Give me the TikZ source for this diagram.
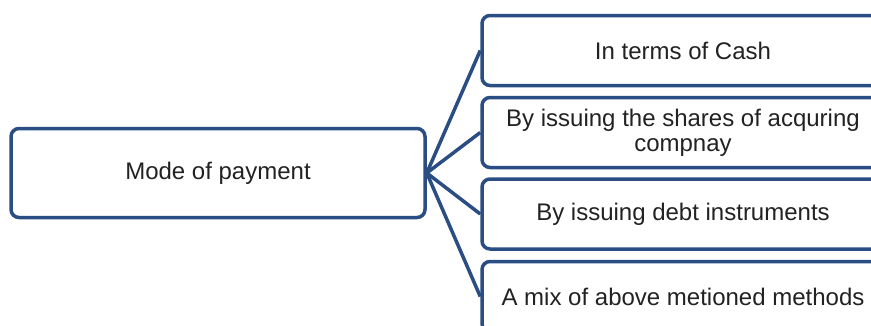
\documentclass[tikz,border=0pt]{standalone}
\usepackage{fontspec}
\setmainfont{Liberation Sans}
\definecolor{edgeblue}{HTML}{2A4D84}
\definecolor{txt}{HTML}{222222}
\begin{document}
\begin{tikzpicture}[x=1pt,y=1pt,
  boxstyle/.style={draw=edgeblue, line width=3.5pt, rounded corners=8pt, fill=white,
    text=txt, font=\fontsize{24}{25}\selectfont, align=center, inner sep=0pt},
  leftbox/.style={boxstyle, minimum width=414pt, minimum height=89pt},
  rightbox/.style={boxstyle, minimum width=402pt, minimum height=70pt},
  conn/.style={draw=edgeblue, line width=3.5pt}]
\useasboundingbox (0,0) rectangle (871,-325);
\clip (0,0) rectangle (871,-325);
\node[leftbox] (mode) at (218,-173) {Mode of payment};
\node[rightbox] (cash) at (683,-50.5) {In terms of Cash};
\node[rightbox] (shares) at (683,-132.5) {By issuing the shares of acquring\\[0pt]compnay};
\node[rightbox] (debt) at (683,-214) {By issuing debt instruments};
\node[rightbox] (mix) at (683,-296.5) {A mix of above metioned methods};
\draw[conn] (mode.east) -- (cash.west);
\draw[conn] (mode.east) -- (shares.west);
\draw[conn] (mode.east) -- (debt.west);
\draw[conn] (mode.east) -- (mix.west);
\end{tikzpicture}
\end{document}
